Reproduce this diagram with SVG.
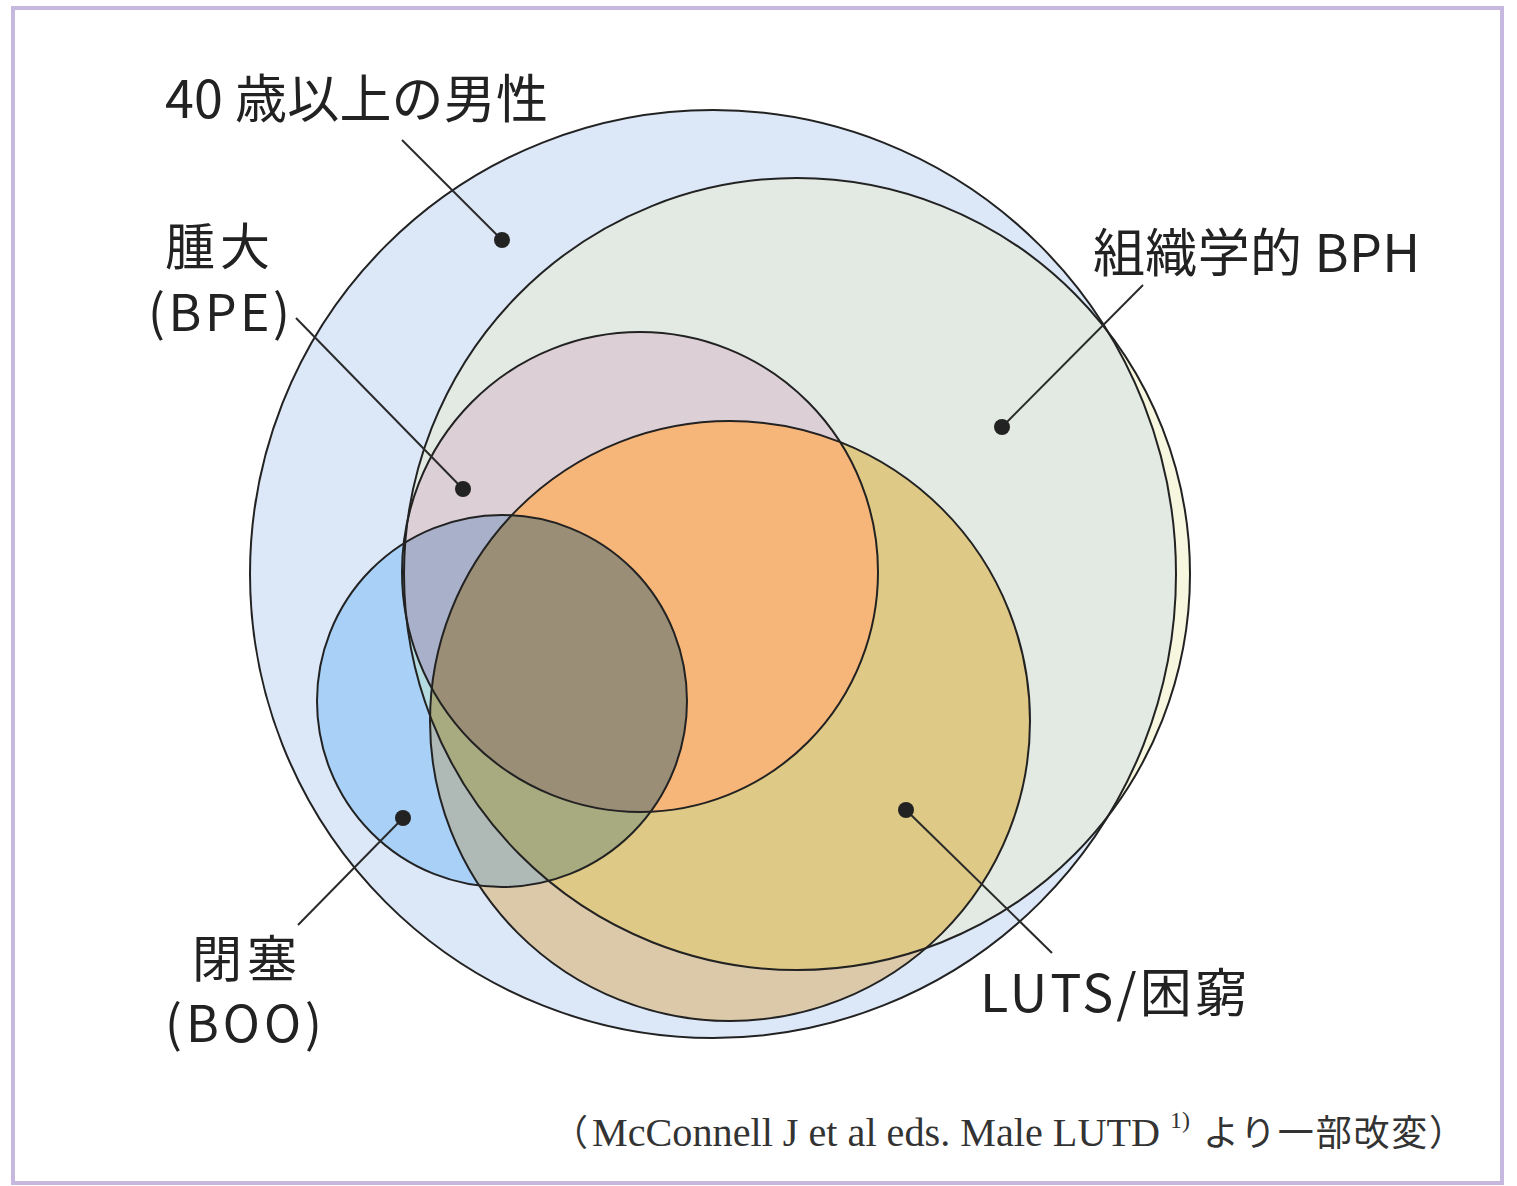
<svg xmlns="http://www.w3.org/2000/svg" xmlns:xlink="http://www.w3.org/1999/xlink" width="1517" height="1186" viewBox="0 0 1517 1186">
<style>
.lbl{font-family:"Noto Sans CJK JP","Noto Sans",sans-serif;font-size:52px;fill:#222}
.lbl2{font-family:"Noto Sans CJK JP","Noto Sans",sans-serif;font-size:50px;fill:#222}
.cite{font-family:"Liberation Serif","Noto Sans CJK JP",serif;font-size:39px;fill:#333}
.citej{font-family:"Noto Sans CJK JP",sans-serif;font-size:36px;fill:#333}
.outline{fill:none;stroke:#222;stroke-width:2}
.lead{stroke:#2a2a2a;stroke-width:2;fill:none}
.dot{fill:#222}
</style>
<defs>
<ellipse id="eA" cx="713" cy="574" rx="463" ry="464"/>
<ellipse id="eH" cx="797" cy="574" rx="393" ry="396"/>
<ellipse id="eE" cx="640" cy="572" rx="238" ry="240"/>
<ellipse id="eL" cx="730" cy="721" rx="300" ry="300"/>
<ellipse id="eO" cx="502" cy="701" rx="185" ry="186"/>
<clipPath id="cA"><use xlink:href="#eA"/></clipPath>
<clipPath id="cH"><use xlink:href="#eH"/></clipPath>
<clipPath id="cE"><use xlink:href="#eE"/></clipPath>
<clipPath id="cL"><use xlink:href="#eL"/></clipPath>
<clipPath id="cO"><use xlink:href="#eO"/></clipPath>
</defs>
<rect x="0" y="0" width="1517" height="1186" fill="#ffffff"/>
<rect id="frame" x="13" y="8" width="1489" height="1175" fill="#ffffff" stroke="#c6b8de" stroke-width="4"/>
<g id="fills">
<use xlink:href="#eA" fill="#dce8f8"/>
<use xlink:href="#eH" fill="#f7f6de"/>
<g clip-path="url(#cA)"><use xlink:href="#eH" fill="#e2eae3"/></g>
<use xlink:href="#eE" fill="#dccfd6"/>
<use xlink:href="#eL" fill="#dbc9aa"/>
<g clip-path="url(#cH)"><use xlink:href="#eL" fill="#dfc986"/></g>
<g clip-path="url(#cE)"><use xlink:href="#eL" fill="#f6b679"/></g>
<use xlink:href="#eO" fill="#a9d1f8"/>
<g clip-path="url(#cH)"><use xlink:href="#eO" fill="#b4dbe0"/></g>
<g clip-path="url(#cE)"><use xlink:href="#eO" fill="#a8b1c9"/></g>
<g clip-path="url(#cL)"><use xlink:href="#eO" fill="#afbab6"/></g>
<g clip-path="url(#cL)"><g clip-path="url(#cH)"><use xlink:href="#eO" fill="#a8aa80"/></g></g>
<g clip-path="url(#cL)"><g clip-path="url(#cE)"><use xlink:href="#eO" fill="#9b8e76"/></g></g>
</g>
<g id="node-men40">
<use xlink:href="#eA" class="outline"/>
<text class="lbl" x="165" y="118" textLength="383" lengthAdjust="spacing">40 歳以上の男性</text>
</g>
<g id="node-bph">
<use xlink:href="#eH" class="outline"/>
<text class="lbl" x="1093" y="272" textLength="327" lengthAdjust="spacing">組織学的 BPH</text>
</g>
<g id="node-bpe">
<use xlink:href="#eE" class="outline"/>
<text class="lbl2" x="165" y="265" textLength="105" lengthAdjust="spacing">腫大</text>
<text class="lbl2" x="148" y="331" textLength="142" lengthAdjust="spacing">(BPE)</text>
</g>
<g id="node-luts">
<use xlink:href="#eL" class="outline"/>
<text class="lbl" x="980" y="1012" textLength="267" lengthAdjust="spacing">LUTS/困窮</text>
</g>
<g id="node-boo">
<use xlink:href="#eO" class="outline"/>
<text class="lbl2" x="192" y="977" textLength="105" lengthAdjust="spacing">閉塞</text>
<text class="lbl2" x="165" y="1042" textLength="157" lengthAdjust="spacing">(BOO)</text>
</g>
<g id="connectors">
<line class="lead" x1="402" y1="140" x2="502" y2="240"/>
<circle class="dot" cx="502" cy="240" r="8"/>
<line class="lead" x1="296" y1="318" x2="463" y2="489"/>
<circle class="dot" cx="463" cy="489" r="8"/>
<line class="lead" x1="1143" y1="285" x2="1002" y2="427"/>
<circle class="dot" cx="1002" cy="427" r="8"/>
<line class="lead" x1="298" y1="925" x2="403" y2="818"/>
<circle class="dot" cx="403" cy="818" r="8"/>
<line class="lead" x1="906" y1="810" x2="1052" y2="953"/>
<circle class="dot" cx="906" cy="810" r="8"/>
</g>
<g id="citation">
<text class="citej" x="552" y="1146">（</text>
<text class="cite" x="592" y="1146" textLength="568" lengthAdjust="spacingAndGlyphs">McConnell J et al eds. Male LUTD</text>
<text class="cite" x="1170" y="1128" style="font-size:24px">1)</text>
<text class="citej" x="1203" y="1146" textLength="262" lengthAdjust="spacing">より一部改変）</text>
</g>
</svg>
